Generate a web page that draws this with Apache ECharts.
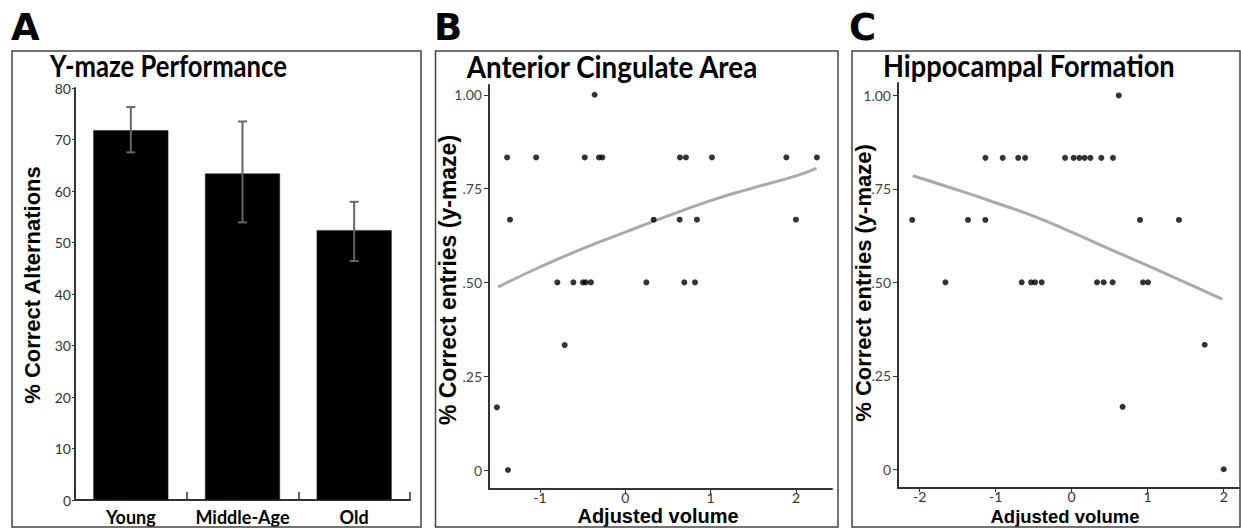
<!DOCTYPE html>
<html>
<head>
<meta charset="utf-8">
<script src="https://cdn.jsdelivr.net/npm/echarts@6/dist/echarts.min.js"></script>
<style>
  html, body { margin: 0; padding: 0; background: #fff; }
  #chart { width: 1241px; height: 529px; }
</style>
</head>
<body>
<div id="chart"></div>
<script>
// ---- Panel A: Y-maze spontaneous alternation by age group (mean with error range)
const ageGroups = ['Young', 'Middle-Age', 'Old'];
const alternationMean = [71.8, 63.4, 52.4];
const alternationLow = [67.5, 53.9, 46.4];
const alternationHigh = [76.3, 73.5, 57.9];
const alternationTicks = [0, 10, 20, 30, 40, 50, 60, 70, 80];

// ---- Panel B: Anterior Cingulate Area, adjusted volume vs. proportion of correct entries
const acaVolume = [
  -1.386, -1.046, -0.476, -0.309, -0.270, 0.640, 0.710, 1.015, 1.887, 2.245,
  -0.36,
  -1.352, 0.332, 0.636, 0.839, 1.999,
  -0.797, -0.609, -0.497, -0.465, -0.403, 0.246, 0.691, 0.816,
  -0.711,
  -1.505,
  -1.376
];
const acaCorrect = [
  0.833, 0.833, 0.833, 0.833, 0.833, 0.833, 0.833, 0.833, 0.833, 0.833,
  1.0,
  0.667, 0.667, 0.667, 0.667, 0.667,
  0.5, 0.5, 0.5, 0.5, 0.5, 0.5, 0.5, 0.5,
  0.333,
  0.167,
  0.0
];
const acaFitVolume = [-1.49, -1.0, -0.5, 0.0, 0.5, 1.0, 1.5, 2.0, 2.24];
const acaFitCorrect = [0.488, 0.541, 0.590, 0.634, 0.677, 0.718, 0.752, 0.784, 0.804];
const acaVolumeTicks = [-1, 0, 1, 2];

// ---- Panel C: Hippocampal Formation, adjusted volume vs. proportion of correct entries
const hfVolume = [
  -1.134, -0.907, -0.704, -0.612, -0.087, 0.026, 0.101, 0.171, 0.246, 0.390, 0.544,
  0.62,
  -2.097, -1.363, -1.135, 0.899, 1.411,
  -1.660, -0.657, -0.534, -0.481, -0.394, 0.334, 0.421, 0.539, 0.938, 1.004,
  1.75,
  0.67,
  2.00
];
const hfCorrect = [
  0.833, 0.833, 0.833, 0.833, 0.833, 0.833, 0.833, 0.833, 0.833, 0.833, 0.833,
  1.0,
  0.667, 0.667, 0.667, 0.667, 0.667,
  0.5, 0.5, 0.5, 0.5, 0.5, 0.5, 0.5, 0.5, 0.5, 0.5,
  0.333,
  0.167,
  0.0
];
const hfFitVolume = [-2.09, -1.5, -1.0, -0.5, 0.0, 0.5, 1.0, 1.5, 1.98];
const hfFitCorrect = [0.785, 0.747, 0.713, 0.677, 0.634, 0.589, 0.545, 0.499, 0.455];
const hfVolumeTicks = [-2, -1, 0, 1, 2];

const correctTicks = [0, 0.25, 0.5, 0.75, 1];

// ---- styling helpers
const AXIS_COLOR = '#333';
const TICK_FONT = 'Lato';
const measureCtx = document.createElement('canvas').getContext('2d');
function widthScale(text, font, target) {
  measureCtx.font = font;
  return target / measureCtx.measureText(text).width;
}
function correctLabel(v) {
  if (v === 0) return '0';
  if (v === 1) return '1.00';
  return v.toFixed(2).replace(/^0/, '');
}
const pairs = (xs, ys) => xs.map((x, i) => [x, ys[i]]);

function valueXAxis(grid, min, max, ticks) {
  return {
    gridIndex: grid, type: 'value', min: min, max: max,
    axisLine: { show: true, onZero: false, lineStyle: { color: AXIS_COLOR, width: 2 } },
    axisTick: { show: true, length: 4, customValues: ticks, lineStyle: { color: AXIS_COLOR, width: 1 } },
    axisLabel: { customValues: ticks, fontFamily: TICK_FONT, fontSize: 14, lineHeight: 13, color: '#333', margin: 2 },
    splitLine: { show: false }
  };
}
function correctYAxis(grid, min, max) {
  return {
    gridIndex: grid, type: 'value', min: min, max: max,
    axisLine: { show: true, onZero: false, lineStyle: { color: AXIS_COLOR, width: 2 } },
    axisTick: { show: true, length: 5, customValues: correctTicks, lineStyle: { color: AXIS_COLOR, width: 1 } },
    axisLabel: { customValues: correctTicks, formatter: correctLabel, fontFamily: TICK_FONT, fontSize: 14, color: '#444', margin: 7 },
    splitLine: { show: false }
  };
}
function panelFrame(x, y, w, h) {
  return { type: 'rect', shape: { x: x, y: y, width: w, height: h }, silent: true,
    style: { fill: null, stroke: '#444', lineWidth: 1.5 }, z: 10 };
}
function panelLetter(text, x, y) {
  return { type: 'text', x: x, y: y, silent: true,
    style: { text: text, font: 'bold 37px "DejaVu Sans"', fill: '#000', align: 'left', verticalAlign: 'middle' } };
}
function panelTitle(text, x, y, width) {
  const font = 'bold 31px Lato';
  return { type: 'text', x: x, y: y, scaleX: widthScale(text, font, width), silent: true,
    style: { text: text, font: font, fill: '#000', align: 'left', verticalAlign: 'middle' } };
}
function axisTitle(text, x, y, size, vertical) {
  return { type: 'text', x: x, y: y, rotation: vertical ? Math.PI / 2 : 0, silent: true,
    style: { text: text, font: 'bold ' + size + 'px "Liberation Sans"', lineHeight: size,
      fill: '#000', align: 'center', verticalAlign: 'middle' } };
}

const chart = echarts.init(document.getElementById('chart'), null, { renderer: 'svg', width: 1241, height: 529 });

chart.setOption({
  animation: false,
  backgroundColor: '#fff',
  grid: [
    { left: 75, top: 88, width: 335, height: 412 },
    { left: 489, top: 85, width: 343, height: 404 },
    { left: 898, top: 83, width: 341, height: 405 }
  ],
  xAxis: [
    {
      gridIndex: 0, type: 'category', data: ageGroups,
      axisLine: { lineStyle: { color: AXIS_COLOR, width: 2 } },
      axisTick: { show: true, inside: true, interval: 0, length: 8, lineStyle: { color: AXIS_COLOR, width: 1.5 } },
      axisLabel: { interval: 0, fontFamily: TICK_FONT, fontWeight: 'bold', fontSize: 18, color: '#000', margin: 8 }
    },
    valueXAxis(1, -1.598, 2.422, acaVolumeTicks),
    valueXAxis(2, -2.284, 2.201, hfVolumeTicks)
  ],
  yAxis: [
    {
      gridIndex: 0, type: 'value', min: 0, max: 80,
      axisLine: { show: true, lineStyle: { color: AXIS_COLOR, width: 2 } },
      axisTick: { show: true, length: 3, customValues: alternationTicks, lineStyle: { color: AXIS_COLOR, width: 1 } },
      axisLabel: { customValues: alternationTicks, fontFamily: TICK_FONT, fontSize: 14, color: '#333', margin: 4 },
      splitLine: { show: false }
    },
    correctYAxis(1, -0.0506, 1.026),
    correctYAxis(2, -0.0501, 1.0332)
  ],
  series: [
    {
      type: 'bar', xAxisIndex: 0, yAxisIndex: 0, data: alternationMean,
      barWidth: 75, itemStyle: { color: '#000', borderColor: '#222', borderWidth: 0.5 }
    },
    {
      type: 'custom', xAxisIndex: 0, yAxisIndex: 0, z: 5,
      data: ageGroups.map((g, i) => [i, alternationLow[i], alternationHigh[i]]),
      renderItem: function (params, api) {
        const lo = api.coord([api.value(0), api.value(1)]);
        const hi = api.coord([api.value(0), api.value(2)]);
        const half = 4.5;
        const style = { stroke: '#666', lineWidth: 2 };
        return {
          type: 'group',
          children: [
            { type: 'line', shape: { x1: lo[0], y1: lo[1], x2: hi[0], y2: hi[1] }, style: style },
            { type: 'line', shape: { x1: hi[0] - half, y1: hi[1], x2: hi[0] + half, y2: hi[1] }, style: style },
            { type: 'line', shape: { x1: lo[0] - half, y1: lo[1], x2: lo[0] + half, y2: lo[1] }, style: style }
          ]
        };
      }
    },
    {
      type: 'line', xAxisIndex: 1, yAxisIndex: 1, data: pairs(acaFitVolume, acaFitCorrect),
      smooth: true, showSymbol: false, z: 2,
      lineStyle: { color: '#aaa', width: 3 }
    },
    {
      type: 'scatter', xAxisIndex: 1, yAxisIndex: 1, data: pairs(acaVolume, acaCorrect),
      symbolSize: 6, itemStyle: { color: '#000' }, z: 4
    },
    {
      type: 'line', xAxisIndex: 2, yAxisIndex: 2, data: pairs(hfFitVolume, hfFitCorrect),
      smooth: true, showSymbol: false, z: 2,
      lineStyle: { color: '#aaa', width: 3 }
    },
    {
      type: 'scatter', xAxisIndex: 2, yAxisIndex: 2, data: pairs(hfVolume, hfCorrect),
      symbolSize: 6, itemStyle: { color: '#000' }, z: 4
    }
  ],
  graphic: [
    panelFrame(12, 51, 409, 476),
    panelFrame(435.5, 51, 402.5, 476),
    panelFrame(852, 51, 388, 476),
    panelLetter('A', 11, 27),
    panelLetter('B', 434, 27),
    panelLetter('C', 849, 27),
    panelTitle('Y-maze Performance', 50, 65, 237),
    panelTitle('Anterior Cingulate Area', 466.7, 66, 292),
    panelTitle('Hippocampal Formation', 883, 65, 292),
    axisTitle('% Correct Alternations', 32, 285, 22, true),
    axisTitle('% Correct entries (y-maze)', 448, 280, 23, true),
    axisTitle('% Correct entries (y-maze)', 863, 283, 22, true),
    axisTitle('Adjusted volume', 658, 516, 20, false),
    axisTitle('Adjusted volume', 1065, 516.5, 18.5, false)
  ]
});
</script>
</body>
</html>
